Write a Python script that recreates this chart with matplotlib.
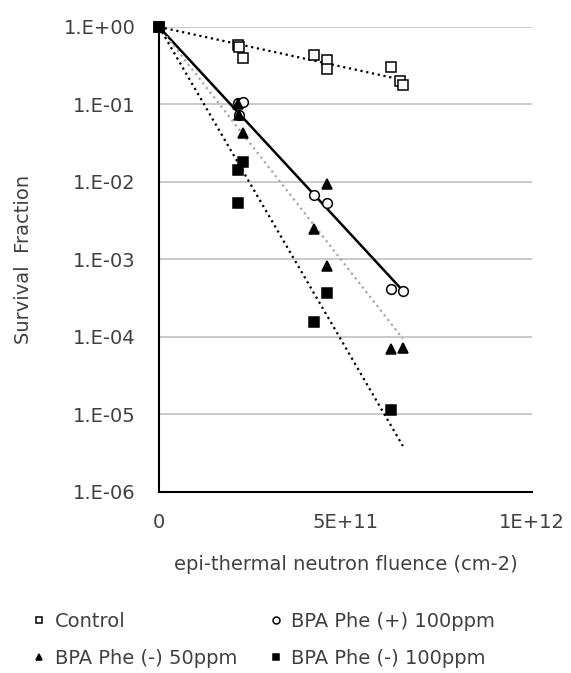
import numpy as np
import matplotlib
matplotlib.use("Agg")
import matplotlib.pyplot as plt
from matplotlib.ticker import FixedLocator, FuncFormatter

plt.rcParams['font.family'] = ['DejaVu Sans']

# fluence values in units of 1e12 cm-2
ctrl_x = [0, 0.212, 0.215, 0.225, 0.416, 0.45, 0.45, 0.622, 0.646, 0.654]
ctrl_y = [1.0, 0.586, 0.55, 0.398, 0.435, 0.375, 0.287, 0.305, 0.20, 0.179]

phe_p_x = [0, 0.212, 0.225, 0.215, 0.416, 0.45, 0.622, 0.654]
phe_p_y = [1.0, 0.105, 0.107, 0.074, 0.0068, 0.0053, 0.00041, 0.00039]

m50_x = [0, 0.212, 0.215, 0.225, 0.45, 0.416, 0.45, 0.622, 0.654]
m50_y = [1.0, 0.100, 0.072, 0.043, 0.0094, 0.0025, 0.00083, 0.000070, 0.000072]

m100_x = [0, 0.225, 0.212, 0.212, 0.45, 0.416, 0.622]
m100_y = [1.0, 0.018, 0.0143, 0.0054, 0.00037, 0.000155, 0.0000115]

series = [
    ("Control", ctrl_x, ctrl_y, 's', 'white', ':', 'black'),
    ("BPA Phe (+) 100ppm", phe_p_x, phe_p_y, 'o', 'white', '-', 'black'),
    ("BPA Phe (-) 50ppm", m50_x, m50_y, '^', 'black', ':', '#a6a6a6'),
    ("BPA Phe (-) 100ppm", m100_x, m100_y, 's', 'black', ':', 'black'),
]

fig = plt.figure(figsize=(5.71, 6.73), dpi=100)
ax = fig.add_axes([0.2785, 0.269, 0.653, 0.691])

x_end = max(ctrl_x)
handles = []
for name, xs, ys, mk, fc, ls, lc in series:
    xs = np.array(xs)
    ly = np.log10(np.array(ys))
    k = np.sum(xs * ly) / np.sum(xs * xs)
    xx = np.linspace(0, x_end, 50)
    ax.plot(xx * 1e12, 10 ** (k * xx), linestyle=ls, color=lc,
            lw=1.6 if ls == ':' else 1.8, zorder=2)
    h = ax.plot(xs * 1e12, ys, linestyle='none', marker=mk, markersize=7,
                markerfacecolor=fc, markeredgecolor='black', markeredgewidth=1.1,
                zorder=5, clip_on=False, label=name)[0]
    handles.append(h)

ax.set_yscale('log')
ax.set_ylim(1e-6, 1)
ax.set_xlim(0, 1e12)
ax.yaxis.set_major_locator(FixedLocator([10.0 ** p for p in range(-6, 1)]))
ax.yaxis.set_minor_locator(FixedLocator([]))
ax.yaxis.set_major_formatter(FuncFormatter(lambda v, p: "1.E%+03d" % round(np.log10(v))))
ax.set_xticks([0, 5e11, 1e12])
ax.set_xticklabels(["0", "5E+11", "1E+12"])
ax.tick_params(length=0, labelsize=14, colors='#404040')
ax.tick_params(axis='y', pad=17)
ax.tick_params(axis='x', pad=15)
ax.grid(axis='y', color='#c0c0c0', lw=1.2)
ax.set_axisbelow(True)
for s in ['top', 'right']:
    ax.spines[s].set_visible(False)
for s in ['left', 'bottom']:
    ax.spines[s].set_linewidth(1.5)
    ax.spines[s].set_color('black')
    ax.spines[s].set_zorder(4)

ax.set_ylabel("Survival  Fraction", fontsize=14, color='#404040', labelpad=22)
ax.set_xlabel("epi-thermal neutron fluence (cm-2)", fontsize=14, color='#404040', labelpad=17)

leg_handles = []
for h in handles:
    leg_handles.append(plt.Line2D([], [], linestyle='none', marker=h.get_marker(),
                                  markersize=5, markerfacecolor=h.get_markerfacecolor(),
                                  markeredgecolor='black', markeredgewidth=1.1))
labels = [h.get_label() for h in handles]
order = [0, 2, 1, 3]
fig.legend([leg_handles[i] for i in order], [labels[i] for i in order], ncol=2,
           frameon=False, loc='upper left', bbox_to_anchor=(0.058, 0.091),
           borderpad=0, borderaxespad=0, fontsize=14,
           handlelength=0.6, handletextpad=0.5, columnspacing=1.7, labelspacing=0.95,
           labelcolor='#404040')

fig.savefig("out.png", dpi=100)
